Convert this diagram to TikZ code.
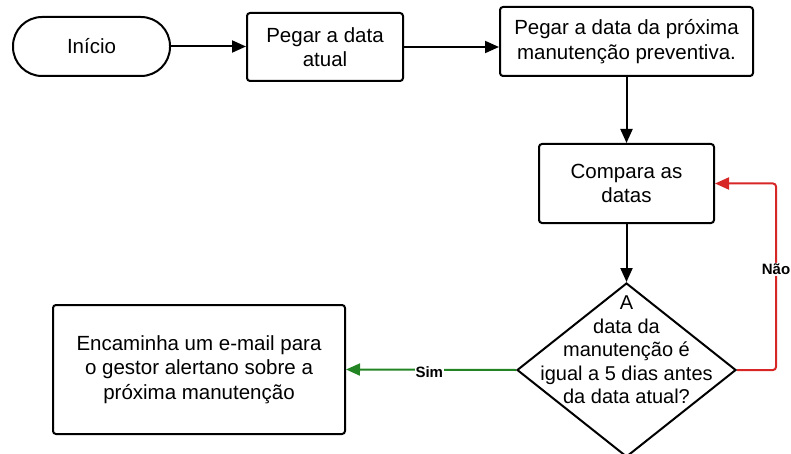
\documentclass[tikz,border=0pt]{standalone}
\usepackage{fontspec}
\setmainfont{Liberation Sans}
\usetikzlibrary{arrows.meta,shapes.geometric}
\definecolor{vermelho}{RGB}{214,38,38}
\definecolor{verde}{RGB}{34,132,34}
\tikzset{caixa/.style={draw,line width=2pt,rounded corners=3pt,align=center,
    font=\fontsize{20.5}{24.5}\selectfont,inner sep=0pt},
  seta/.style={line width=2pt,-{Triangle[length=14pt,width=12pt]}},
  rotulo/.style={fill=white,inner sep=1pt,font=\fontsize{15}{17}\selectfont\bfseries}}
\begin{document}
\begin{tikzpicture}[x=1pt,y=-1pt]
      \useasboundingbox (0,0) rectangle (791,454);
      \path (91.5,46.5) node[caixa,rounded corners=29pt,minimum width=157pt,minimum height=59pt] (inicio) {Início};
      \path (325,47) node[caixa,minimum width=156pt,minimum height=68pt] (pegar) {Pegar a data\\atual};
      \path (626.5,41.5) node[caixa,minimum width=253pt,minimum height=69pt] (proxima) {Pegar a data da próxima\\manutenção preventiva.};
      \path (626.5,183.5) node[caixa,minimum width=175pt,minimum height=79pt] (compara) {Compara as\\datas};
      \path (626.5,370) node[draw,line width=2pt,diamond,inner sep=0pt,minimum width=219pt,minimum height=174pt] (decisao) {};
      \path (626.5,350) node[align=center,font=\fontsize{20}{23.5}\selectfont] (pergunta) {A\\data da\\manutenção é\\igual a 5 dias antes\\da data atual?};
      \path (199,369.5) node[caixa,minimum width=292pt,minimum height=129pt] (email) {Encaminha um e-mail para\\o gestor alertano sobre a\\próxima manutenção};
      \draw[seta] (inicio.east) -- (inicio.east -| pegar.west);
      \draw[seta] (pegar.east) -- (pegar.east -| proxima.west);
      \draw[seta] (proxima) -- (compara);
      \draw[seta] (compara) -- (decisao.north);
      \draw[seta,vermelho,rounded corners=3pt] (decisao.east) -- ++(39,0) |- (compara.east)
        node[pos=0.27,rotulo,text=black] (nao) {Não};
      \draw[seta,verde] (decisao.west) -- (email.east)
        node[pos=0.51,rotulo,text=black,yshift=-2pt] (sim) {Sim};
     \end{tikzpicture}
\end{document}
